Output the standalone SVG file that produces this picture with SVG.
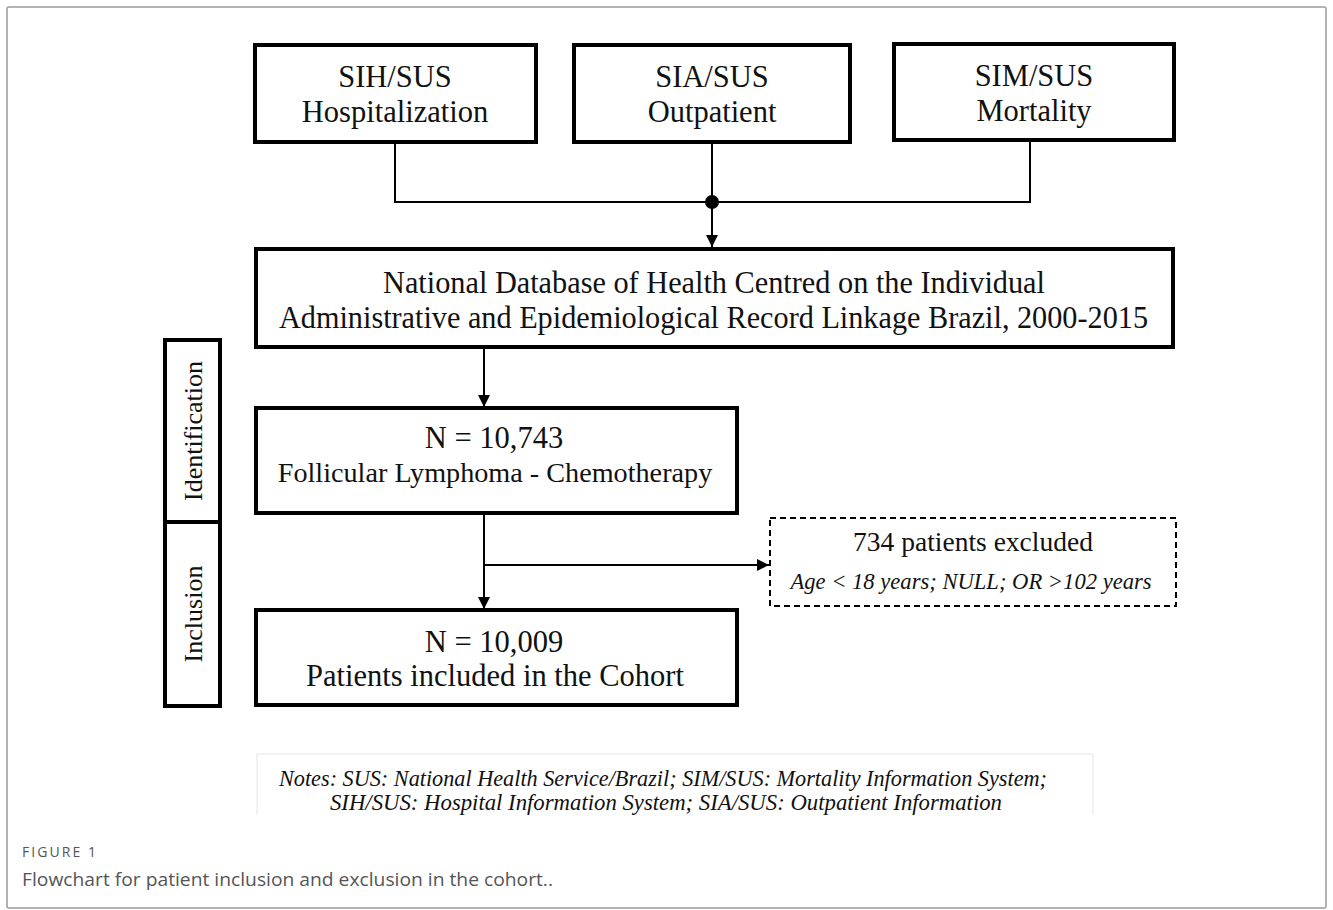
<svg xmlns="http://www.w3.org/2000/svg" width="1333" height="910" viewBox="0 0 1333 910">
<defs>
<style>
.box{fill:#fff;stroke:#000;stroke-width:4}
.dash{fill:#fff;stroke:#000;stroke-width:2;stroke-dasharray:6,4}
.ln{fill:none;stroke:#000;stroke-width:2}
.t{font-family:"Liberation Serif","Times New Roman",serif;fill:#111;text-anchor:middle}
.big{font-size:30.5px}
.it{font-style:italic}
.cap{font-family:"Open Sans","Liberation Sans",sans-serif;fill:#555}
</style>
<marker id="ah2" viewBox="0 0 12 12" refX="12" refY="6" markerWidth="12" markerHeight="12" markerUnits="userSpaceOnUse" orient="auto">
<path d="M0,0 L12,6 L0,12 Z" fill="#000"/>
</marker>
</defs>
<rect x="0" y="0" width="1333" height="910" fill="#fff"/>
<rect x="7" y="7" width="1319" height="901" rx="2" fill="none" stroke="#9a9a9a" stroke-width="1.5"/>

<g id="connectors">
<path class="ln" d="M395,142 V202 H1030 V140"/>
<path class="ln" d="M712,142 V247" marker-end="url(#ah2)"/>
<circle cx="712" cy="202" r="7" fill="#000"/>
<path class="ln" d="M484,347 V407" marker-end="url(#ah2)"/>
<path class="ln" d="M484,513 V609" marker-end="url(#ah2)"/>
<path class="ln" d="M484,565 H769" marker-end="url(#ah2)"/>
</g>

<g id="sih">
<rect class="box" x="255" y="45" width="281" height="97"/>
<text class="t big" x="395" y="87">SIH/SUS</text>
<text class="t big" x="395" y="122">Hospitalization</text>
</g>
<g id="sia">
<rect class="box" x="574" y="45" width="276" height="97"/>
<text class="t big" x="712" y="87">SIA/SUS</text>
<text class="t big" x="712" y="122">Outpatient</text>
</g>
<g id="sim">
<rect class="box" x="894" y="44" width="280" height="96"/>
<text class="t big" x="1034" y="86">SIM/SUS</text>
<text class="t big" x="1034" y="121">Mortality</text>
</g>
<g id="ndb">
<rect class="box" x="256" y="249" width="917" height="98"/>
<text class="t big" x="714" y="293" textLength="662" lengthAdjust="spacingAndGlyphs">National Database of Health Centred on the Individual</text>
<text class="t big" x="713.5" y="328" textLength="869" lengthAdjust="spacingAndGlyphs">Administrative and Epidemiological Record Linkage Brazil, 2000-2015</text>
</g>
<g id="identification">
<rect class="box" x="165" y="340" width="55" height="182"/>
<text class="t" font-size="26" transform="translate(202,431) rotate(-90)">Identification</text>
</g>
<g id="inclusion">
<rect class="box" x="165" y="522" width="55" height="184"/>
<text class="t" font-size="26" transform="translate(202,614) rotate(-90)">Inclusion</text>
</g>
<g id="n10743">
<rect class="box" x="256" y="408" width="481" height="105"/>
<text class="t big" x="494" y="448">N = 10,743</text>
<text class="t" font-size="28.2" x="495" y="482">Follicular Lymphoma - Chemotherapy</text>
</g>
<g id="excluded">
<rect class="dash" x="770" y="518" width="406" height="88"/>
<text class="t" font-size="27.5" x="973" y="551">734 patients excluded</text>
<text class="t it" font-size="22.6" x="971" y="589">Age &lt; 18 years; NULL; OR &gt;102 years</text>
</g>
<g id="n10009">
<rect class="box" x="256" y="610" width="481" height="95"/>
<text class="t big" x="494" y="652">N = 10,009</text>
<text class="t big" x="495" y="686">Patients included in the Cohort</text>
</g>
<g id="notes">
<path d="M257,815 V754 H1093 V815" fill="none" stroke="#eeeeee" stroke-width="1.5"/>
<text class="t it" font-size="22.4" x="663" y="786" textLength="768" lengthAdjust="spacingAndGlyphs">Notes: SUS: National Health Service/Brazil;  SIM/SUS: Mortality Information System;</text>
<text class="t it" font-size="22.4" x="666" y="810" textLength="672" lengthAdjust="spacingAndGlyphs">SIH/SUS: Hospital Information System; SIA/SUS: Outpatient Information</text>
</g>
<g id="caption">
<text class="cap" x="22" y="857" font-size="14" textLength="74" lengthAdjust="spacing">FIGURE 1</text>
<text class="cap" x="22" y="886" font-size="18.5" textLength="531" lengthAdjust="spacingAndGlyphs">Flowchart for patient inclusion and exclusion in the cohort..</text>
</g>
</svg>
